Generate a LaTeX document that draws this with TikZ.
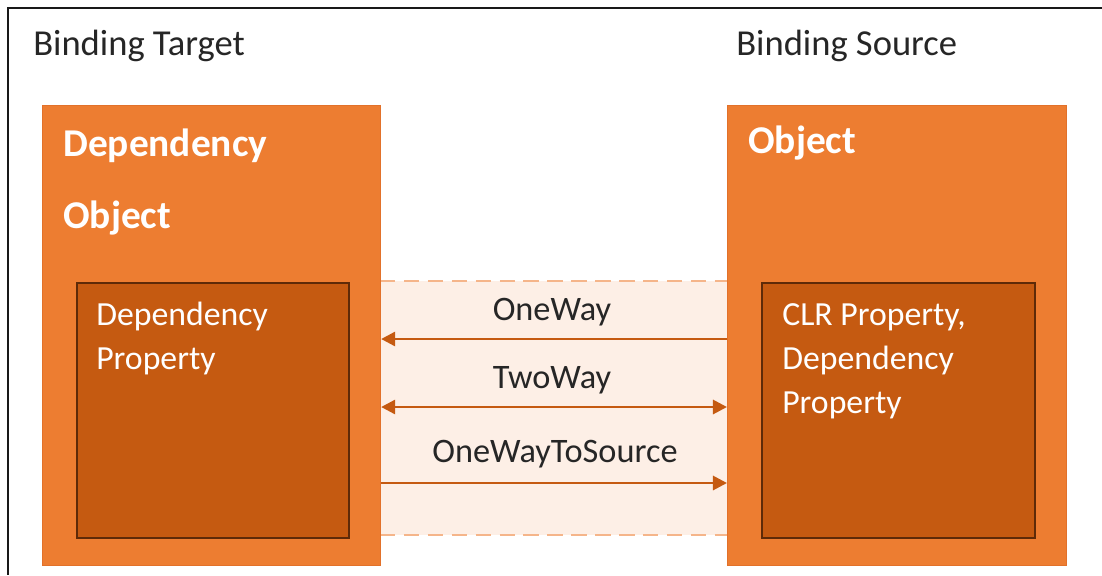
\documentclass[tikz,border=0pt]{standalone}
\usepackage{fontspec}
\setmainfont{Carlito}
\usetikzlibrary{arrows.meta, positioning}
\definecolor{objorange}{HTML}{ED7D31}
\definecolor{objedge}{HTML}{E2712A}
\definecolor{propbrown}{HTML}{C55A11}
\definecolor{propedge}{HTML}{5E2A08}
\definecolor{bandfill}{HTML}{FDEFE6}
\definecolor{banddash}{HTML}{F5B58A}
\tikzset{
  objbox/.style={draw=objedge, line width=0.8pt, fill=objorange, inner sep=0pt,
    anchor=north west, minimum width=#1*0.025cm, minimum height=460*0.025cm},
  propbox/.style={draw=propedge, line width=1.4pt, fill=propbrown, inner sep=0pt,
    anchor=north west, minimum width=#1*0.025cm, minimum height=255*0.025cm},
  headtext/.style={text=black!85, font=\fontsize{26}{30}\selectfont, inner sep=0pt, anchor=base west},
  objtext/.style={text=white, font=\bfseries\fontsize{28}{51}\selectfont, inner sep=0pt,
    anchor=base west, align=left},
  proptext/.style={text=white, font=\fontsize{24}{31.2}\selectfont, inner sep=0pt,
    anchor=base west, align=left},
  modetext/.style={text=black!85, font=\fontsize{24.4}{30}\selectfont, inner sep=0pt, anchor=base},
  bind/.style={draw=propbrown, line width=2pt, -{Triangle[length=10pt, width=10pt]}}
}
\begin{document}
\begin{tikzpicture}[x=0.025cm, y=-0.025cm]
  \useasboundingbox (0,0) rectangle (1102,575);
  % frame
  \draw[line width=1.8pt, black!90] (1102,8) -- (8,8) -- (8,575);
  \node[headtext] (tgthead) at (33,55) {Binding Target};
  \node[headtext] (srchead) at (736,55) {Binding Source};
  % band between the objects
  \fill[bandfill] (380,281) rectangle (727,535);
  \draw[banddash, line width=1.5pt, dash pattern=on 11pt off 6pt] (380,281) -- (727,281);
  \draw[banddash, line width=1.5pt, dash pattern=on 11pt off 6pt] (380,535) -- (727,535);
  % objects (multi-line names sit on their last line)
  \node[objbox=338] (tgt) at (42,105) {};
  \node[objbox=339] (src) at (727,105) {};
  \node[propbox=272] (tgtprop) at (76,282) {};
  \node[propbox=273] (srcprop) at (761,282) {};
  \node[objtext] (tgtname) at (63,228) {Dependency\\Object};
  \node[objtext] (srcname) at (748,153) {Object};
  \node[proptext] (tgtpropname) at (96,369) {Dependency\\Property};
  \node[proptext] (srcpropname) at (782,413) {CLR Property,\\Dependency\\Property};
  % binding modes
  \coordinate (oneway) at (0,339);
  \coordinate (twoway) at (0,407);
  \coordinate (tosource) at (0,483);
  \node[modetext] (onewaylbl) at (552,320) {OneWay};
  \node[modetext] (twowaylbl) at (552,388) {TwoWay};
  \node[modetext] (tosourcelbl) at (555,462) {OneWayToSource};
  \draw[bind] (src.west |- oneway) -- (tgt.east |- oneway);
  \draw[bind, {Triangle[length=10pt, width=10pt]}-{Triangle[length=10pt, width=10pt]}] (tgt.east |- twoway) -- (src.west |- twoway);
  \draw[bind] (tgt.east |- tosource) -- (src.west |- tosource);
\end{tikzpicture}
\end{document}
